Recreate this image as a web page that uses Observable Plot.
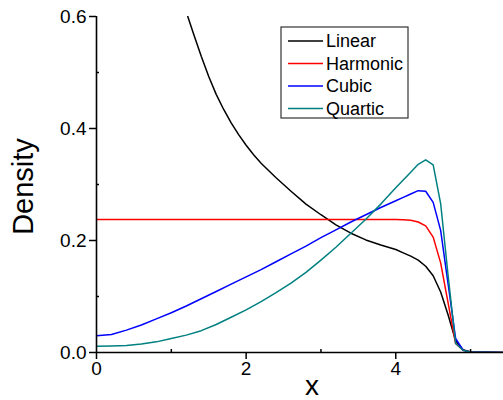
<!DOCTYPE html>
<html><head><meta charset="utf-8">
<script src="https://cdn.jsdelivr.net/npm/d3@7"></script>
<script src="https://cdn.jsdelivr.net/npm/@observablehq/plot@0.6"></script>
<style>body{margin:0;background:#fff} #chart{width:503px;height:400px}</style>
</head><body><div id="chart"></div>
<script>
// shared x grid for Harmonic, Cubic, Quartic
const xs       = [0, 0.2, 0.4, 0.6, 0.8, 1.0, 1.2, 1.4, 1.6, 1.8, 2.0, 2.2, 2.4, 2.6, 2.8, 3.0, 3.2, 3.4, 3.6, 3.8, 4.0, 4.1, 4.2, 4.3, 4.4, 4.5, 4.6, 4.7, 4.8, 4.9, 5.0, 5.44];
const harmonic = [0.2375, 0.2375, 0.2375, 0.2375, 0.2375, 0.2375, 0.2375, 0.2375, 0.2375, 0.2375, 0.2375, 0.2375, 0.2375, 0.2375, 0.2375, 0.2375, 0.2375, 0.2375, 0.2375, 0.2375, 0.2375, 0.2372, 0.236, 0.233, 0.226, 0.206, 0.160, 0.088, 0.016, 0.004, 0.001, 0];
const cubic    = [0.030, 0.032, 0.040, 0.049, 0.060, 0.071, 0.083, 0.096, 0.109, 0.122, 0.135, 0.148, 0.162, 0.176, 0.190, 0.205, 0.219, 0.233, 0.246, 0.259, 0.271, 0.277, 0.283, 0.289, 0.288, 0.268, 0.218, 0.122, 0.025, 0.004, 0.001, 0];
const quartic  = [0.011, 0.0115, 0.0125, 0.015, 0.019, 0.025, 0.031, 0.039, 0.050, 0.063, 0.076, 0.091, 0.107, 0.124, 0.143, 0.165, 0.188, 0.213, 0.238, 0.265, 0.294, 0.308, 0.322, 0.336, 0.344, 0.335, 0.266, 0.137, 0.016, 0.004, 0.001, 0];
// Linear has its own x grid (it leaves the top of the chart near x = 1.22)
const linearX  = [1.22, 1.3, 1.4, 1.5, 1.6, 1.7, 1.8, 1.9, 2.0, 2.1, 2.2, 2.4, 2.6, 2.8, 3.0, 3.2, 3.4, 3.6, 3.8, 4.0, 4.1, 4.2, 4.3, 4.4, 4.5, 4.6, 4.7, 4.8, 4.9, 5.0, 5.44];
const linear   = [0.600, 0.568, 0.529, 0.493, 0.461, 0.434, 0.410, 0.389, 0.370, 0.353, 0.338, 0.312, 0.288, 0.265, 0.246, 0.228, 0.213, 0.201, 0.192, 0.184, 0.178, 0.172, 0.165, 0.154, 0.137, 0.108, 0.067, 0.021, 0.005, 0.001, 0];
const seriesNames  = ["Linear", "Harmonic", "Cubic", "Quartic"];
const seriesColors = ["#000000", "#ff0000", "#0000ff", "#008080"];
const yMajor = [0, 0.2, 0.4, 0.6];
const yMinor = [0.1, 0.3, 0.5];
const xMajor = [0, 2, 4];
const xMinor = [1, 3, 5];

const rows = [];
linearX.forEach((x, j) => rows.push({x, y: linear[j], s: "Linear"}));
[harmonic, cubic, quartic].forEach((vals, i) =>
  xs.forEach((x, j) => rows.push({x, y: vals[j], s: seriesNames[i + 1]})));

const font = "'Liberation Sans', Arial, Helvetica, sans-serif";
const plot = Plot.plot({
  width: 503, height: 400,
  marginLeft: 96, marginRight: 0, marginTop: 16, marginBottom: 48,
  x: {domain: [0, 5.44]},
  y: {domain: [0, 0.6]},
  color: {domain: seriesNames, range: seriesColors},
  style: {fontFamily: font, fontSize: "19px", color: "#000", background: "#fff", overflow: "visible"},
  marks: [
    Plot.line(rows, {x: "x", y: "y", z: "s", stroke: "s", strokeWidth: 1.5, clip: true}),
    Plot.ruleX([0], {strokeWidth: 1.6}),
    Plot.ruleY([0], {strokeWidth: 1.6}),
    Plot.axisY(yMajor, {tickSize: 7, tickPadding: 3, tickFormat: d3.format(".1f"), label: null, fontSize: 19, strokeWidth: 1.5}),
    Plot.axisY(yMinor, {tickSize: -3, tickFormat: () => "", label: null, strokeWidth: 1.5}),
    Plot.axisX(xMajor, {tickSize: 7, tickPadding: 2, tickFormat: d3.format("d"), label: null, fontSize: 19, strokeWidth: 1.5}),
    Plot.axisX(xMinor, {tickSize: -3, tickFormat: () => "", label: null, strokeWidth: 1.5}),
    Plot.text(["Density"], {frameAnchor: "left", textAnchor: "middle", lineAnchor: "middle", rotate: -90, dx: -73, dy: 2, fontSize: 29}),
    Plot.text(["x"], {frameAnchor: "bottom", textAnchor: "middle", lineAnchor: "middle", dx: 12, dy: 34, fontSize: 28})
  ]
});

const svg = d3.select(plot);
const g = svg.append("g").attr("font-family", font).attr("font-size", 18).attr("text-anchor", "start");
g.append("rect").attr("x", 281).attr("y", 27).attr("width", 127).attr("height", 91)
  .attr("fill", "white").attr("stroke", "#333").attr("stroke-width", 1.2);
seriesNames.forEach((n, i) => {
  const yy = 41 + i * 22.5;
  g.append("line").attr("x1", 288).attr("x2", 323).attr("y1", yy).attr("y2", yy)
    .attr("stroke", seriesColors[i]).attr("stroke-width", 1.5);
  g.append("text").attr("x", 326).attr("y", yy).attr("dy", "0.35em").attr("fill", "#000").text(n);
});
document.getElementById("chart").appendChild(plot);
</script>
</body></html>
